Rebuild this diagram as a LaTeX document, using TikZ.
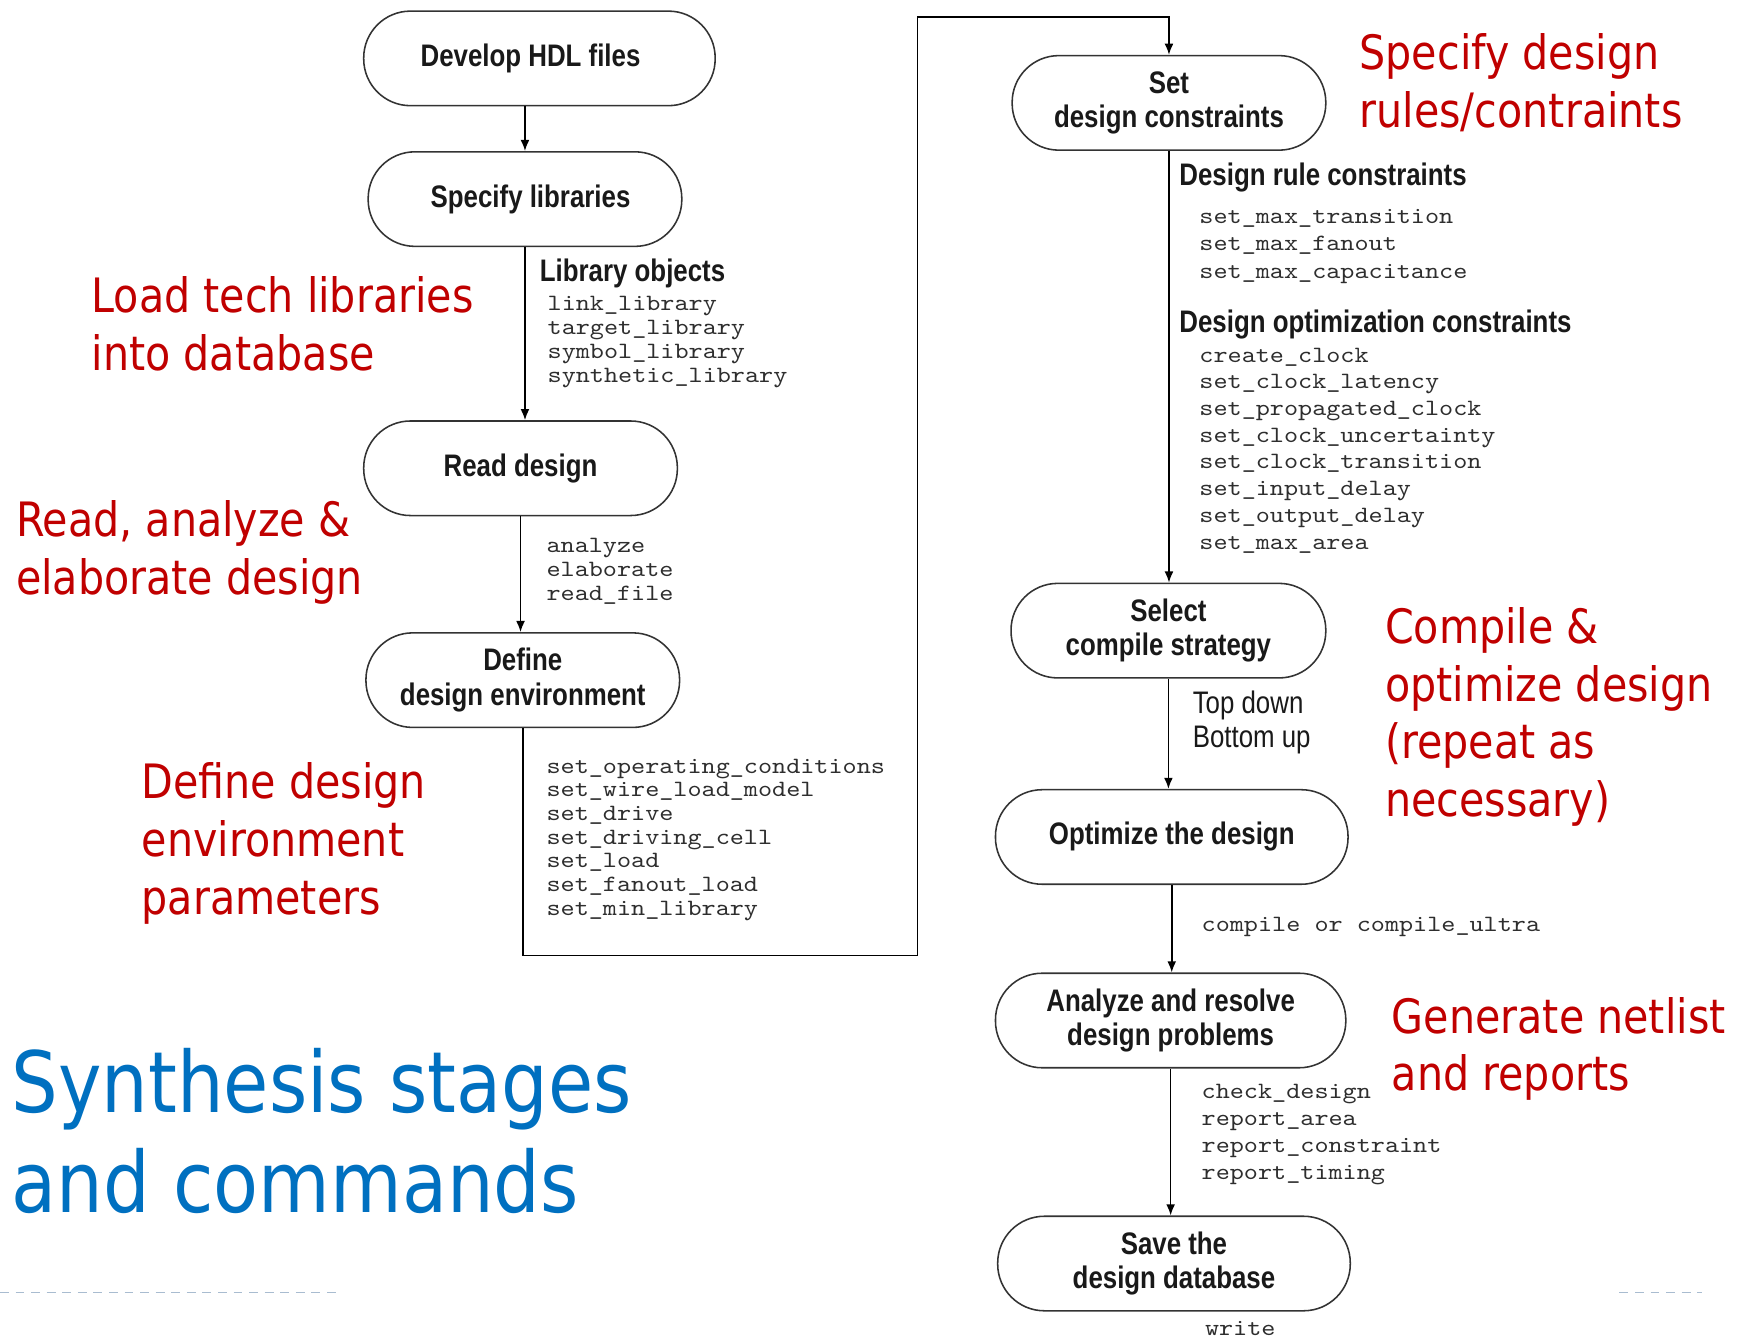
\documentclass[tikz,border=0pt]{standalone}
\usepackage{fontspec}
\usetikzlibrary{arrows.meta}
\newfontfamily\boxfont[FakeStretch=0.83]{Liberation Sans}
\newfontfamily\monofont[FakeStretch=1.15]{lmmono10-regular.otf}
\newfontfamily\notefont[FakeStretch=0.87]{DejaVu Sans}
\definecolor{notered}{HTML}{C00000}
\definecolor{titleblue}{HTML}{0070C0}
\definecolor{cmdgray}{HTML}{2E2E2E}
\definecolor{rulegray}{HTML}{A9BCD0}
\tikzset{
  stage/.style={draw=black!80, line width=0.7pt, rounded corners=21pt,
    minimum height=42.5pt, align=center, inner sep=0,
    font=\boxfont\bfseries\fontsize{14}{15.5}\selectfont, text=black!90},
  flow/.style={line width=0.75pt, -{Latex[length=5pt,width=4pt]}},
  cmds/.style={font=\monofont\fontsize{10.5}{#1}\selectfont, text=cmdgray,
    align=left, inner sep=0, anchor=west},
  heading/.style={font=\boxfont\bfseries\fontsize{14}{15}\selectfont,
    text=black!90, inner sep=0, anchor=west},
  plainlbl/.style={font=\boxfont\fontsize{14}{15.5}\selectfont,
    text=black!90, align=left, inner sep=0, anchor=west},
  note/.style={font=\notefont\fontsize{21.3}{26}\selectfont, text=notered,
    align=left, inner sep=0, anchor=west},
  title/.style={font=\notefont\fontsize{38}{45}\selectfont, text=titleblue,
    align=left, inner sep=0, anchor=west},
  sepline/.style={draw=rulegray, line width=0.8pt, dash pattern=on 4pt off 3pt},
}
\begin{document}
\begin{tikzpicture}[x=0.5pt, y=-0.5pt]
\clip (0,0) rectangle (1568,1204);
\fill[white] (0,0) rectangle (1568,1204);

% left column of stages
\node[stage, minimum width=158pt] (dev)  at (485,52.5)  {\hspace*{-8pt}Develop HDL files};
\node[stage, minimum width=141pt] (lib)  at (472,179)   {\hspace*{5pt}Specify libraries};
\node[stage, minimum width=141pt] (read) at (468,421)   {Read design};
\node[stage, minimum width=141pt] (env)  at (470,611.5) {Define\\design environment};

% right column of stages
\node[stage, minimum width=141pt]   (cons)  at (1051,92.5)   {Set\\design constraints};
\node[stage, minimum width=141.5pt] (strat) at (1050.5,567)  {Select\\compile strategy};
\node[stage, minimum width=158.5pt] (opt)   at (1053.5,752.5){Optimize the design};
\node[stage, minimum width=157.5pt] (anl)   at (1052.5,917.5){Analyze and resolve\\design problems};
\node[stage, minimum width=158.5pt] (save)  at (1055.5,1136) {Save the\\design database};

% connectors
\coordinate (turnlow)  at (825,859);
\coordinate (turnhigh) at (825,15);
\draw[flow] (dev.south -| lib.north) -- (lib.north);
\draw[flow] (lib.south) -- (lib.south |- read.north);
\draw[flow] (read.south) -- (read.south |- env.north);
\draw[flow] (env.south) -- (env.south |- turnlow) -- (turnlow) -- (turnhigh)
  -- (turnhigh -| cons.north) -- (cons.north);
\draw[flow] (cons.south) -- (cons.south |- strat.north);
\draw[flow] (strat.south) -- (strat.south |- opt.north);
\draw[flow] (opt.south) -- (opt.south |- anl.north);
\draw[flow] (anl.south) -- (anl.south |- save.north);

% command lists
\node[heading] (libhd) at (485,246) {Library objects};
\node[cmds=10.85pt] (libcmds) at (492,307.5)
  {link\_library\\target\_library\\symbol\_library\\synthetic\_library};
\node[cmds=10.75pt] (readcmds) at (491,513.5) {analyze\\elaborate\\read\_file};
\node[cmds=10.65pt] (envcmds) at (491,755)
  {set\_operating\_conditions\\set\_wire\_load\_model\\set\_drive\\set\_driving\_cell\\set\_load\\set\_fanout\_load\\set\_min\_library};
\node[heading] (rulehd) at (1060,160) {Design rule constraints};
\node[cmds=12.25pt] (rulecmds) at (1078,221.5)
  {set\_max\_transition\\set\_max\_fanout\\set\_max\_capacitance};
\node[heading] (opthd) at (1060,292) {Design optimization constraints};
\node[cmds=12pt] (optcmds) at (1078,405)
  {create\_clock\\set\_clock\_latency\\set\_propagated\_clock\\set\_clock\_uncertainty\\set\_clock\_transition\\set\_input\_delay\\set\_output\_delay\\set\_max\_area};
\node[plainlbl] (strategies) at (1072,649.5) {Top down\\Bottom up};
\node[cmds=12pt] (compcmd) at (1080,833) {compile or compile\_ultra};
\node[cmds=12pt] (chkcmds) at (1080,1020)
  {check\_design\\report\_area\\report\_constraint\\report\_timing};
\node[font=\monofont\fontsize{10.5}{12}\selectfont, text=cmdgray, inner sep=0,
  anchor=base west] (writecmd) at (1083,1201) {write};

% notes
\node[note] (n1) at (1222,74)    {Specify design\\rules/contraints};
\node[note] (n2) at (82,291.5)   {Load tech libraries\\into database};
\node[note] (n3) at (14,497)     {Read, analyze \&\\elaborate design};
\node[note] (n4) at (127,758.5)  {Define design\\environment\\parameters};
\node[note] (n5) at (1245,644.5) {Compile \&\\optimize design\\(repeat as\\necessary)};
\node[note] (n6) at (1251,943)   {Generate netlist\\and reports};
\node[title] (ttl) at (10,1017)  {Synthesis stages\\and commands};

% footer rules
\draw[sepline] (0,1162) -- (307,1162);
\draw[sepline] (1456,1162) -- (1530,1162);
\end{tikzpicture}
\end{document}
